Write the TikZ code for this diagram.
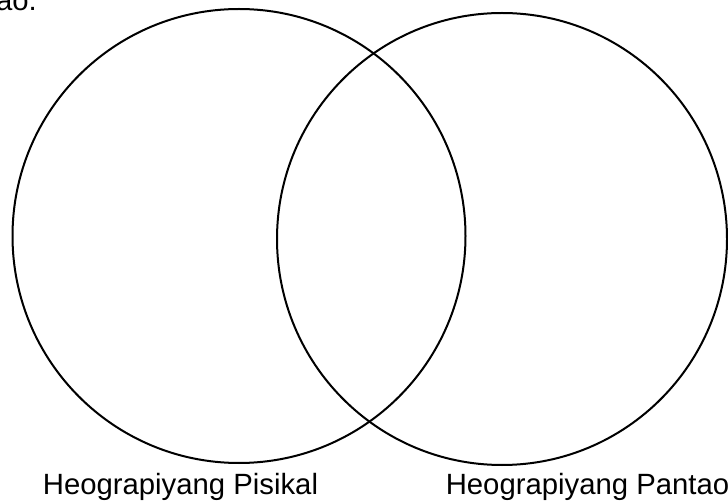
\documentclass[tikz,border=0pt]{standalone}
\usepackage{fontspec}
\setmainfont{Liberation Sans}
\usetikzlibrary{shapes.geometric, positioning}
\tikzset{
	set_circle/.style={ellipse, draw=black, line width=2pt, inner sep=0pt, fill=none},
	set_label/.style={font=\fontsize{29.3}{35}\selectfont, anchor=base, inner sep=0pt},
	clipped_text/.style={font=\fontsize{29.3}{35}\selectfont, anchor=base east, inner sep=0pt}
}
\begin{document}
\begin{tikzpicture}[x=1pt, y=-1pt]
	\clip (0,0) rectangle (728,502);
	\node[clipped_text] (head) at (37,11) {ao.};
	\node[set_circle, minimum width=453pt, minimum height=454pt] (pisikal) at (239,236) {};
	\node[set_circle, minimum width=450pt, minimum height=452pt] (pantao) at (502,239) {};
	\node[set_label] (lbl_pisikal) at (180.5,494) {Heograpiyang Pisikal};
	\node[set_label] (lbl_pantao) at (587.5,494) {Heograpiyang Pantao};
\end{tikzpicture}
\end{document}
